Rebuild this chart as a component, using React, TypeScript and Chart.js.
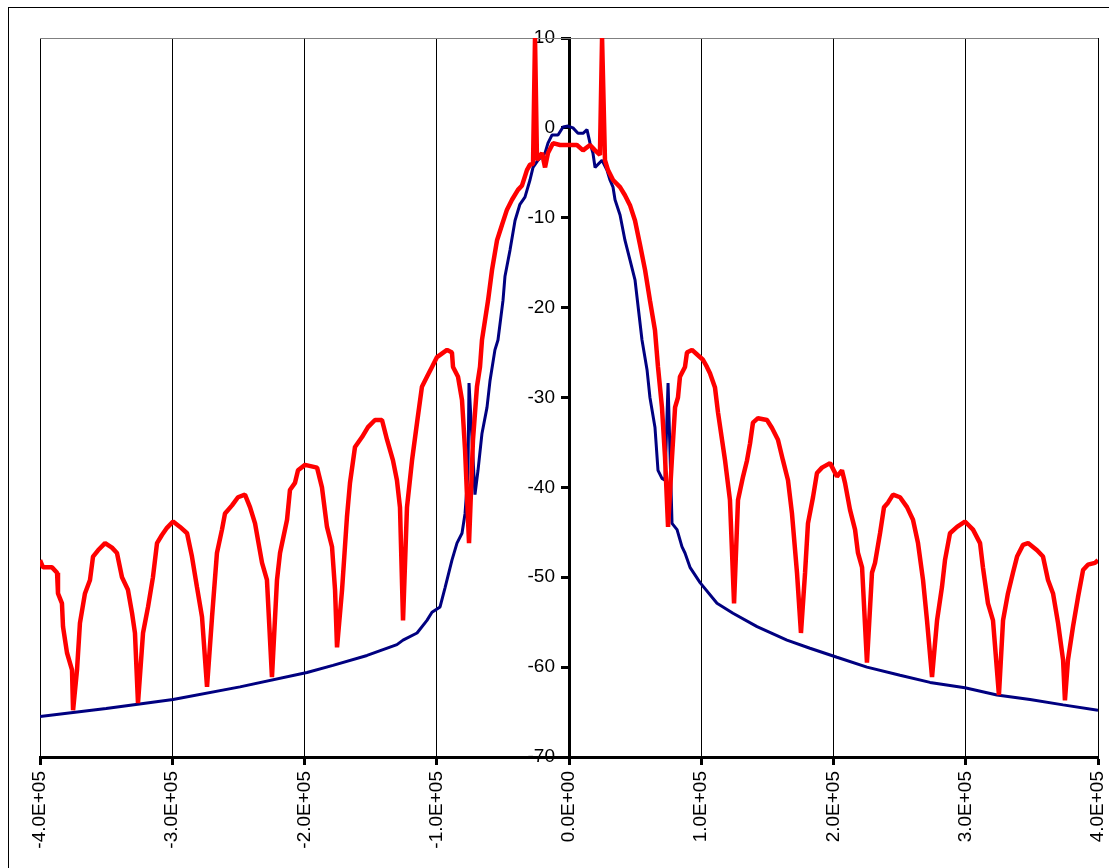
import React, { useEffect, useRef } from 'react';
import { Chart, registerables } from 'chart.js';

Chart.register(...registerables);

const xTickLabels = ['-4.0E+05', '-3.0E+05', '-2.0E+05', '-1.0E+05', '0.0E+00', '1.0E+05', '2.0E+05', '3.0E+05', '4.0E+05'];
const yTickLabels = ['-70', '-60', '-50', '-40', '-30', '-20', '-10', '0', '10'];

const redX = [
  -400000, -397700, -390900, -387100, -386400, -383400, -382600, -379600, -375800, -375000,
  -372000, -369800, -366000, -362200, -359900, -356100, -350800, -345600, -341800, -338000,
  -333500, -330400, -328200, -325900, -322100, -318300, -314600, -311500, -307800, -304000,
  -299400, -294100, -288800, -285100, -281300, -277500, -273700, -269900, -266200, -262400,
  -260100, -254800, -250300, -245000, -241200, -237400, -232100, -228400, -224600, -220800,
  -218500, -213200, -211000, -207200, -204900, -199600, -190500, -186800, -183000, -179200,
  -176900, -175400, -171600, -167900, -165600, -161800, -156500, -152000, -146700, -141400,
  -137600, -133100, -130100, -127800, -125500, -122500, -118700, -114900, -111200, -107400,
  -103600, -99800, -92200, -88500, -87700, -83900, -80900, -78600, -75600, -72600,
  -69600, -67300, -65800, -61200, -58200, -54400, -50700, -46900, -43100, -38600,
  -35500, -31800, -29500, -27200, -25700, -24200, -20400, -18100, -15900, -12100,
  -6800, -800, 6000, 10600, 15900, 19700, 23400, 25000, 27200, 29500,
  33300, 38600, 42300, 46100, 49900, 53700, 57500, 61200, 65000, 67300,
  70300, 72600, 74900, 77900, 80200, 82400, 83900, 87700, 89200, 93000,
  97500, 101300, 104300, 106600, 110400, 112700, 118000, 121700, 124800, 127800,
  131600, 134600, 136900, 139100, 142900, 149700, 153500, 158000, 161800, 165600,
  168600, 172400, 175400, 178500, 180700, 184500, 187500, 191300, 197400, 202600,
  206400, 208700, 212500, 216300, 218500, 221600, 225300, 229100, 231400, 235200,
  238200, 241200, 245000, 250300, 255600, 260100, 263900, 267700, 270700, 274500,
  278300, 282000, 284300, 288100, 293400, 299400, 305500, 310800, 313000, 316800,
  320600, 325100, 328200, 331900, 335700, 338800, 343300, 347100, 353900, 358400,
  362200, 366000, 369800, 373600, 375000, 377300, 381100, 384900, 388700, 392400,
  397700, 400000,
];

const redY = [
  -48.1, -48.9, -48.9, -49.5, -51.8, -52.9, -55.5, -58.4, -60.3, -64.8,
  -60.3, -55.1, -51.8, -50.3, -47.7, -47.0, -46.2, -46.7, -47.3, -50.0,
  -51.4, -54.0, -56.2, -64.0, -56.2, -53.3, -50.0, -46.2, -45.3, -44.5,
  -43.8, -44.4, -45.1, -47.7, -51.1, -54.4, -62.2, -54.4, -47.3, -44.7,
  -42.9, -42.0, -41.1, -40.8, -42.2, -44.0, -48.4, -50.3, -61.1, -50.3,
  -47.3, -43.6, -40.3, -39.5, -38.1, -37.5, -37.8, -40.0, -44.4, -46.6,
  -51.4, -57.8, -51.4, -43.3, -39.5, -35.5, -34.4, -33.3, -32.5, -32.5,
  -34.7, -37.0, -39.2, -42.2, -54.8, -42.2, -37.0, -32.8, -28.8, -27.7,
  -26.6, -25.5, -24.7, -25.0, -26.6, -27.7, -30.3, -35.8, -46.2, -34.7,
  -28.8, -26.6, -23.6, -19.2, -15.8, -12.5, -10.8, -9.1, -8.0, -6.9,
  -6.4, -4.7, -4.1, -4.0, 10, -3.6, -2.8, -4.4, -2.8, -1.7,
  -1.9, -1.9, -1.9, -2.5, -1.9, -2.5, -3.0, 10, -3.6, -4.7,
  -5.8, -6.6, -7.5, -8.6, -10.3, -13.0, -15.8, -19.2, -22.5, -26.6,
  -31.1, -36.6, -44.4, -36.6, -31.1, -30.0, -27.7, -26.6, -25.0, -24.7,
  -25.3, -25.8, -26.6, -27.3, -28.9, -31.7, -37.0, -41.4, -52.9, -41.4,
  -38.8, -37.0, -35.1, -32.8, -32.3, -32.5, -33.4, -34.7, -37.0, -39.2,
  -42.9, -49.5, -56.2, -49.5, -44.0, -41.1, -38.4, -37.8, -37.3, -38.8,
  -38.1, -39.5, -42.5, -44.7, -47.3, -48.9, -59.5, -49.5, -48.4, -45.1,
  -42.2, -41.7, -40.8, -41.1, -42.2, -43.6, -46.2, -50.3, -54.8, -61.1,
  -54.8, -51.1, -48.1, -45.1, -44.4, -43.8, -44.7, -46.2, -48.9, -52.9,
  -54.8, -63.1, -54.8, -51.8, -49.5, -47.7, -46.4, -46.2, -47.0, -47.7,
  -50.3, -51.8, -55.1, -59.2, -63.7, -59.2, -55.5, -52.2, -49.2, -48.6,
  -48.4, -48.1,
];

const blueX = [
  -400000, -350000, -299400, -248800, -198100, -178500, -152700, -130100, -125500, -114900, -107400,
  -103600, -97500, -93800, -88500, -84700, -80900, -78600, -76400, -75600, -73300,
  -71100, -68800, -65800, -62000, -59700, -56000, -53700, -49900, -48400, -44600,
  -40800, -37100, -33300, -29500, -27200, -23400, -18100, -15900, -12900, -8300,
  -4500, -800, 3000, 6800, 10600, 13600, 15900, 18100, 19700, 25000,
  28700, 31000, 33300, 34800, 38600, 42300, 46100, 49900, 55200, 59000,
  61200, 65000, 67300, 70300, 72600, 74900, 77900, 81700, 85400, 87700,
  91500, 99100, 111900, 124000, 142200, 164800, 182200, 202600, 225300, 250300,
  273000, 299400, 323600, 348600, 373600, 400000,
];

const blueY = [
  -65.5, -64.6, -63.6, -62.2, -60.6, -59.8, -58.7, -57.5, -57.0, -56.2, -54.8,
  -53.9, -53.3, -51.2, -48.1, -46.2, -45.1, -42.9, -38.4, -28.4, -34.7,
  -40.8, -38.1, -34.0, -31.1, -28.1, -24.7, -23.6, -19.2, -16.5, -13.6,
  -10.3, -8.5, -7.7, -5.8, -4.4, -3.6, -2.8, -1.7, -0.8, -0.8,
  0.1, 0.2, 0.0, -0.6, -0.6, -0.2, -1.7, -2.8, -4.4, -3.6,
  -4.7, -5.8, -6.6, -8.0, -9.7, -12.5, -14.7, -16.9, -23.6, -26.9,
  -30.0, -33.3, -38.1, -39.0, -39.2, -28.4, -44.0, -44.7, -46.6, -47.3,
  -48.9, -50.6, -52.9, -54.0, -55.5, -57.0, -57.9, -58.9, -60.0, -60.9,
  -61.7, -62.3, -63.1, -63.6, -64.2, -64.8,
];

const FONT = "'Liberation Sans', Arial, sans-serif";

export default function App() {
  const ref = useRef<HTMLCanvasElement>(null);

  useEffect(() => {
    const canvas = ref.current;
    if (!canvas) return;
    const toPts = (xs: number[], ys: number[]) => xs.map((x, i) => ({ x, y: ys[i] }));

    const frame = {
      id: 'frameTop',
      beforeDatasetsDraw(chart: any) {
        const { ctx, chartArea: a } = chart;
        ctx.save();
        ctx.strokeStyle = '#808080';
        ctx.lineWidth = 1;
        ctx.beginPath();
        ctx.moveTo(a.left, a.top + 0.5);
        ctx.lineTo(a.right, a.top + 0.5);
        ctx.stroke();
        ctx.restore();
      },
    };

    const chart = new Chart(canvas, {
      type: 'line',
      data: {
        datasets: [
          {
            label: 'red',
            data: toPts(redX, redY),
            borderColor: '#FF0000',
            backgroundColor: '#FF0000',
            borderWidth: 4.5,
            pointRadius: 0,
            borderJoinStyle: 'bevel',
            tension: 0,
          },
          {
            label: 'blue',
            data: toPts(blueX, blueY),
            borderColor: '#000080',
            backgroundColor: '#000080',
            borderWidth: 3,
            pointRadius: 0,
            borderJoinStyle: 'bevel',
            tension: 0,
          },
        ],
      },
      options: {
        animation: false,
        responsive: false,
        layout: { padding: { left: 31, top: 30, right: 31, bottom: 0 } },
        plugins: { legend: { display: false }, tooltip: { enabled: false } },
        scales: {
          x: {
            type: 'linear',
            position: 'bottom',
            min: -400000,
            max: 400000,
            ticks: {
              stepSize: 100000,
              autoSkip: false,
              minRotation: 90,
              maxRotation: 90,
              padding: 6,
              color: '#000',
              font: { family: FONT, size: 19 },
              callback: (_v: any, i: number) => xTickLabels[i],
            },
            grid: { color: '#000', lineWidth: 1, tickWidth: 3, tickLength: 8, tickColor: '#000' },
            border: { display: true, color: '#000', width: 3 },
            afterFit: (s: any) => {
              s.height = 131;
            },
          },
          y: {
            type: 'linear',
            position: { x: 0 },
            min: -70,
            max: 10,
            ticks: { stepSize: 10, display: false },
            grid: { drawOnChartArea: false, color: '#000', tickWidth: 3, tickLength: 7, tickColor: '#000' },
            border: { display: true, color: '#000', width: 3 },
          },
          yLabels: {
            type: 'linear',
            axis: 'y',
            position: { x: -10600 },
            min: -70,
            max: 10,
            ticks: {
              stepSize: 10,
              color: '#000',
              font: { family: FONT, size: 19 },
              callback: (_v: any, i: number) => yTickLabels[i],
            },
            grid: { display: false, drawOnChartArea: false, drawTicks: false },
            border: { display: false },
          },
        },
      } as any,
      plugins: [frame],
    });
    return () => chart.destroy();
  }, []);

  return (
    <div
      style={{
        position: 'fixed',
        left: 8,
        top: 7,
        width: 1120,
        height: 880,
        border: '1px solid #000',
        background: '#fff',
      }}
    >
      <canvas ref={ref} width={1120} height={880} style={{ display: 'block' }} />
    </div>
  );
}
